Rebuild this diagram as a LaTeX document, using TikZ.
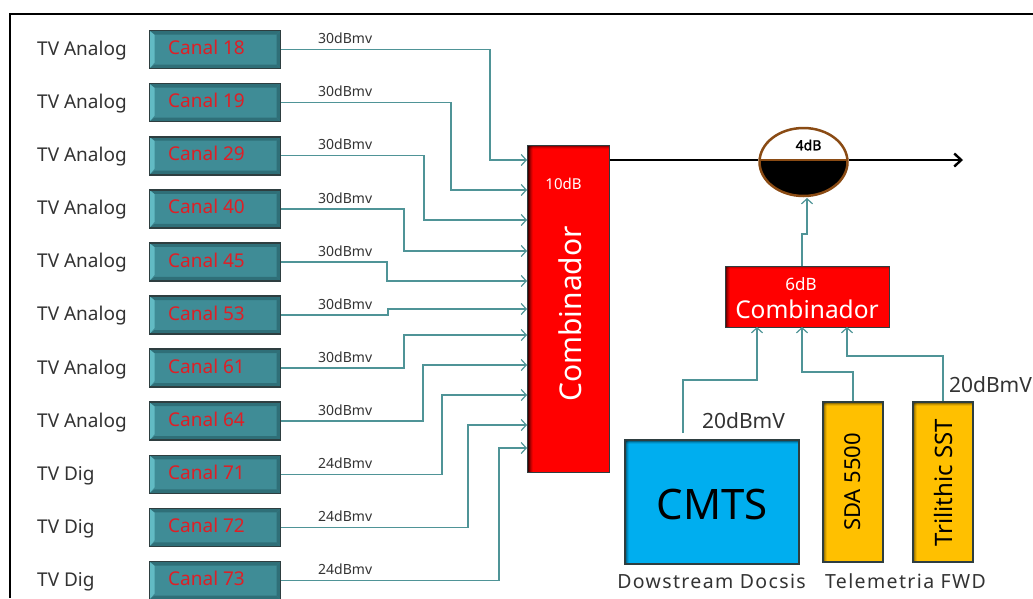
\documentclass[tikz,border=0pt]{standalone}
\usepackage{fontspec}
\setmainfont{Noto Sans}
\newfontfamily\wideface[LetterSpace=7]{Noto Sans}
\newfontfamily\heavyface[FakeBold=1.6]{Noto Sans}
\usetikzlibrary{arrows.meta,calc,shapes.geometric}
\definecolor{tealbox}{HTML}{3F8C96}
\definecolor{tealline}{HTML}{4F9497}
\definecolor{teallight}{HTML}{62BBC4}
\definecolor{tealdark}{HTML}{2F6F78}
\definecolor{edgedark}{HTML}{2E3E40}
\definecolor{canalred}{HTML}{DE1F26}
\definecolor{inktext}{HTML}{333333}
\definecolor{rim}{HTML}{8A4B14}
\definecolor{cyanbox}{HTML}{00AEEF}
\definecolor{goldbox}{HTML}{FFC000}
\tikzset{
  fs/.style={font=\fontsize{#1}{#1}\selectfont},
  channelbox/.style={draw=edgedark,line width=1.6pt,fill=tealbox,minimum width=131pt,minimum height=38pt,inner sep=0pt,
    path picture={
      \fill[teallight] (path picture bounding box.north west) -- ++(5,0) -- ++(0,32) -- ($(path picture bounding box.south west)$) -- cycle;
      \fill[tealdark] (path picture bounding box.south west) -- ++(5,-4) -- ($(path picture bounding box.south east)+(-4,-4)$) -- (path picture bounding box.south east) -- cycle;
      \fill[tealdark] (path picture bounding box.south east) -- ++(-4,-4) -- ($(path picture bounding box.north east)+(-4,4)$) -- (path picture bounding box.north east) -- cycle;
      \fill[tealdark] (path picture bounding box.north west) -- ++(5,4) -- ($(path picture bounding box.north east)+(-4,4)$) -- (path picture bounding box.north east) -- cycle;
    }},
  sourcetext/.style={fs=19,text=inktext,anchor=west,inner sep=0pt},
  canaltext/.style={fs=19,text=canalred,anchor=west,inner sep=0pt},
  leveltext/.style={fs=14,text=inktext,anchor=west,inner sep=0pt},
  conn/.style={draw=tealline,line width=1.5pt,-{Straight Barb[length=5pt,width=11pt,line width=1.2pt]}},
  mainline/.style={draw=black,line width=2.4pt},
  redbox/.style={draw=edgedark,line width=1pt,fill=red,inner sep=0pt,
    path picture={
      \foreach \s/\p in {0/75,1/55,2/35,3/20,4/8}{
        \fill[black!\p!red] ($(path picture bounding box.north west)+(\s,0)$) rectangle ($(path picture bounding box.south west)+(\s+1.05,0)$);
      }
      \foreach \s/\p in {0/40,1/20,2/08}{
        \fill[black,opacity=0.\p] ($(path picture bounding box.north west)+(0,\s)$) rectangle ($(path picture bounding box.north east)+(0,\s+1.05)$);
      }
    }},
  deepshade/.style={draw=edgedark,line width=1.2pt,fill=#1,inner sep=0pt,
    path picture={
      \foreach \s/\p in {0/55,1/35,2/20,3/8}{
        \fill[black!\p!#1] ($(path picture bounding box.north west)+(\s,0)$) rectangle ($(path picture bounding box.south west)+(\s+1.05,0)$);
      }
      \foreach \s/\p in {0/60,1/40,2/20,3/08}{
        \fill[black,opacity=0.\p] ($(path picture bounding box.north west)+(0,\s)$) rectangle ($(path picture bounding box.north east)+(0,\s+1.05)$);
      }
    }},
  whitetext/.style={text=white,inner sep=0pt},
  darktext/.style={text=black,inner sep=0pt},
  captiontext/.style={fs=21,text=inktext,inner sep=0pt}
}
\begin{document}
\begin{tikzpicture}[x=1pt,y=-1pt]
\useasboundingbox (0,0) rectangle (1033,598);
\fill[white] (0,0) rectangle (1033,598);
\draw[black,line width=2pt] (9.5,598) -- (9.5,14) -- (1033,14);

% main combiner
\node[redbox,minimum width=82pt,minimum height=327pt] (comb) at (568.5,309) {};
\node[whitetext,fs=15] (comb10) at (563.5,184) {10dB};
\node[whitetext,fs=30,rotate=90] (combt) at (570,314) {Combinador};

% channels
\foreach \n/\lab/\kind/\lev/\bx/\ty [count=\k from 0] in {
 18/Canal 18/TV Analog/30dBmv/490/160,
 19/Canal 19/TV Analog/30dBmv/451/190,
 29/Canal 29/TV Analog/30dBmv/424/220,
 40/Canal 40/TV Analog/30dBmv/404/251,
 45/Canal 45/TV Analog/30dBmv/387/281,
 53/Canal 53/TV Analog/30dBmv/388/309,
 61/Canal 61/TV Analog/30dBmv/404/335,
 64/Canal 64/TV Analog/30dBmv/423/365,
 71/Canal 71/TV Dig/24dBmv/442/395,
 72/Canal 72/TV Dig/24dBmv/468/425,
 73/Canal 73/TV Dig/24dBmv/499/448}{
  \pgfmathsetmacro{\yc}{49.5+53.1*\k}
  \node[channelbox] (c\n) at (215,\yc) {};
  \node[canaltext] (t\n) at (168,\yc-2) {\lab};
  \node[sourcetext] (s\n) at (37,\yc+1) {\kind};
  \node[leveltext] (l\n) at (318,\yc-11) {\lev};
  \coordinate (in\n) at (comb.west |- 0,\ty);
  \draw[conn] (c\n.east) -| (\bx,\ty) -- (in\n);
}

% attenuator
\coordinate (outp) at (comb.east |- 0,160);
\coordinate (tip) at (963,160);
\node[draw=rim,line width=2.5pt,fill=white,ellipse,minimum width=88pt,minimum height=68pt,inner sep=0pt,
  path picture={\fill[black] (path picture bounding box.west |- 0,-2) rectangle (path picture bounding box.south east);\draw[rim,line width=2pt] (path picture bounding box.west |- 0,-2) -- (path picture bounding box.east |- 0,-2);}] (att) at (803.5,162) {};
\node[darktext,font=\fontsize{14}{14}\selectfont\heavyface] (att4) at (808.5,145) {4dB};
\draw[mainline] (outp) -- (att.west |- 0,160);
\draw[mainline,-{Straight Barb[length=7pt,width=13pt,line width=2.4pt]}] (att.east |- 0,160) -- (tip);

% second combiner
\node[redbox,minimum width=164pt,minimum height=61pt] (cb2) at (807,296.5) {};
\node[whitetext,fs=17] (cb6) at (801,284) {6dB};
\node[whitetext,fs=24.5] (cbt) at (807,309) {Combinador};
\coordinate (cbup) at (802,266);
\coordinate (atin) at (807,198);
\draw[conn] (cbup) -- (802,234) -- (807,234) -- (atin);

% sources
\node[deepshade=cyanbox,minimum width=174pt,minimum height=124pt] (cmts) at (712,502) {};
\node[darktext,fs=42] (cmtst) at (712,504) {CMTS};
\node[deepshade=goldbox,minimum width=60pt,minimum height=160pt] (sda) at (853,482) {};
\node[darktext,fs=22,rotate=90] (sdat) at (853,482) {SDA 5500};
\node[deepshade=goldbox,minimum width=60pt,minimum height=160pt] (tri) at (943,482) {};
\node[darktext,fs=24,rotate=90] (trit) at (943,483) {Trilithic SST};

\coordinate (cmtsup) at (683,433);
\coordinate (cbin1) at (757,327);
\coordinate (cbin2) at (802,327);
\coordinate (cbin3) at (847,327);
\draw[conn] (cmtsup) |- (757,380) -- (cbin1);
\draw[conn] (sda.north) |- (802,372) -- (cbin2);
\draw[conn] (tri.north) |- (847,356) -- (cbin3);

\node[captiontext] (lev1) at (743.5,421) {20dBmV};
\node[captiontext] (lev2) at (990.5,385) {20dBmV};
\node[captiontext,fs=19.5] (cap1) at (711.5,581) {\wideface Dowstream Docsis};
\node[captiontext,fs=19.5] (cap2) at (905.5,581) {\wideface Telemetria FWD};
\end{tikzpicture}
\end{document}
